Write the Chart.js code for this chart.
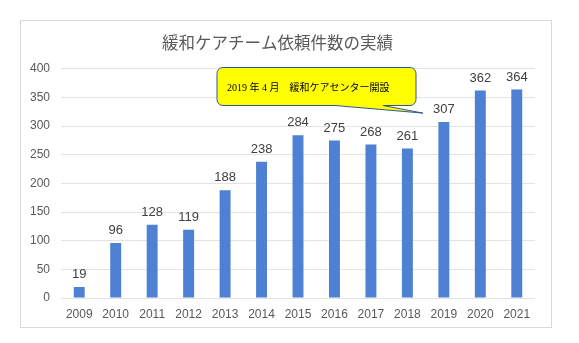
<!DOCTYPE html>
<html>
<head>
<meta charset="utf-8">
<script src="https://cdn.jsdelivr.net/npm/chart.js@4"></script>
<style>
  html, body { margin: 0; padding: 0; background: #fff; }
  #wrap { width: 579px; height: 343px; position: relative; }
</style>
</head>
<body>
<div id="wrap"><canvas id="grafik"></canvas></div>
<script>
const years = ['2009','2010','2011','2012','2013','2014','2015','2016','2017','2018','2019','2020','2021'];
const requests = [19, 96, 128, 119, 188, 238, 284, 275, 268, 261, 307, 362, 364];
const yTicks = [0, 50, 100, 150, 200, 250, 300, 350, 400];
const titleText = '緩和ケアチーム依頼件数の実績';
const calloutText = '2019 年 4 月　緩和ケアセンター開設';
const calloutYear = '2019';

// outer frame + value labels + callout
const extras = {
    id: 'extras',
    beforeDraw: (chart) => {
        const c = chart.ctx;
        c.save();
        c.fillStyle = '#fff';
        c.fillRect(0, 0, chart.width, chart.height);
        c.strokeStyle = '#d9d9d9';
        c.lineWidth = 1;
        c.strokeRect(20.5, 20.5, 531, 307);
        c.restore();
    },
    afterDatasetsDraw: (chart) => {
        const c = chart.ctx;
        const meta = chart.getDatasetMeta(0);
        c.save();
        c.font = '13px "Liberation Sans", Arial, sans-serif';
        c.fillStyle = '#404040';
        c.textAlign = 'center';
        c.textBaseline = 'bottom';
        meta.data.forEach((bar, i) => {
            c.fillText(requests[i], bar.x, bar.y - 6);
        });
        c.restore();
    },
    afterDraw: (chart) => {
        const c = chart.ctx;
        const xs = chart.scales.x;
        const ys = chart.scales.y;
        const idx = years.indexOf(calloutYear);
        const tipX = xs.getPixelForValue(idx) - 21;
        const tipY = ys.getPixelForValue(requests[idx]) - 9;
        const bx = 217, by = 67.5, bw = 199, bh = 38, r = 6;
        c.save();
        c.beginPath();
        c.moveTo(bx + r, by);
        c.lineTo(bx + bw - r, by);
        c.arcTo(bx + bw, by, bx + bw, by + r, r);
        c.lineTo(bx + bw, by + bh - r);
        c.arcTo(bx + bw, by + bh, bx + bw - r, by + bh, r);
        c.lineTo(383, by + bh);
        c.lineTo(tipX, tipY);
        c.lineTo(335, by + bh);
        c.lineTo(bx + r, by + bh);
        c.arcTo(bx, by + bh, bx, by + bh - r, r);
        c.lineTo(bx, by + r);
        c.arcTo(bx, by, bx + r, by, r);
        c.closePath();
        c.fillStyle = '#ffff00';
        c.fill();
        c.strokeStyle = '#2f5597';
        c.lineWidth = 1;
        c.stroke();
        c.fillStyle = '#000';
        c.font = '10px "Liberation Serif", "Noto Sans CJK JP", serif';
        c.textAlign = 'left';
        c.textBaseline = 'middle';
        c.fillText(calloutText, 227, 88);
        c.restore();
    }
};

let ctx = document.getElementById('grafik');
let chart = new Chart(ctx, {
    type: 'bar',
    data: {
        labels: years,
        datasets: [{
            data: requests,
            backgroundColor: '#4e80d4',
            categoryPercentage: 1,
            barPercentage: 0.3
        }]
    },
    options: {
        responsive: true,
        maintainAspectRatio: false,
        animation: false,
        layout: { padding: { left: 20, right: 44, top: 20, bottom: 0 } },
        plugins: {
            legend: { display: false },
            tooltip: { enabled: false },
            title: {
                display: true,
                text: titleText,
                color: '#595959',
                font: { family: '"Noto Sans CJK JP", sans-serif', size: 16.5, weight: 'normal' },
                padding: { top: 13, bottom: 16 }
            }
        },
        scales: {
            x: {
                afterFit: (s) => { s.height = 45; },
                grid: { display: false, drawTicks: false },
                border: { display: false },
                ticks: {
                    color: '#595959',
                    font: { family: '"Liberation Sans", Arial, sans-serif', size: 12 },
                    padding: 9,
                    maxRotation: 0
                }
            },
            y: {
                min: 0,
                max: 400,
                afterFit: (s) => { s.width = 41; },
                afterBuildTicks: (s) => { s.ticks = yTicks.map(v => ({ value: v })); },
                grid: { color: '#e3e3e3', drawTicks: false },
                border: { display: false },
                ticks: {
                    color: '#595959',
                    font: { family: '"Liberation Sans", Arial, sans-serif', size: 12 },
                    padding: 11
                }
            }
        }
    },
    plugins: [extras]
});
</script>
</body>
</html>
